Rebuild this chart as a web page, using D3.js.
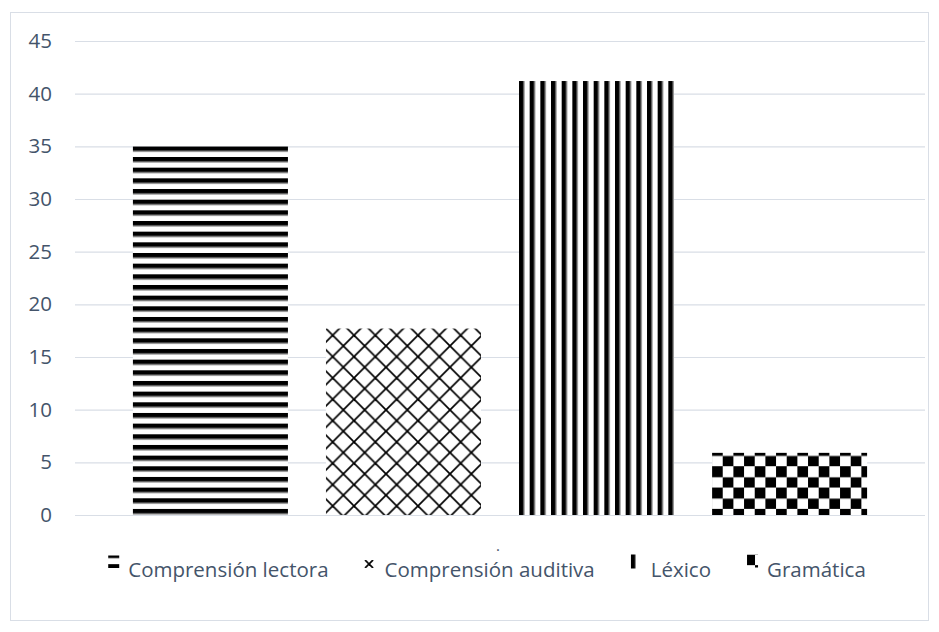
<!DOCTYPE html>
<html>
<head>
<meta charset="utf-8">
<script src="https://cdn.jsdelivr.net/npm/d3@7"></script>
<style>
  html, body { margin: 0; padding: 0; background: #fff; }
  svg { display: block; }
  .lbl { font-family: "Open Sans", sans-serif; font-size: 20.5px; fill: #44546A; }
  .cat { font-family: "Open Sans", sans-serif; font-size: 15px; fill: #44546A; }
</style>
</head>
<body>
<svg id="chart" width="939" height="632"></svg>
<script>
// Data
const categories = ["."];
const seriesNames = ["Comprensión lectora", "Comprensión auditiva", "Léxico", "Gramática"];
const seriesValues = [35, 17.7, 41.2, 5.9];
const yTicks = [0, 5, 10, 15, 20, 25, 30, 35, 40, 45];
const seriesPatterns = ["hstripe", "lattice", "vstripe", "checker"];

const plot = { left: 75, right: 925, top: 41, bottom: 515 };
const gridColor = "#d9dee6";

const svg = d3.select("#chart");
const defs = svg.append("defs");

// Fill patterns: each instance anchored at its own origin
function makePattern(id, kind, ox, oy, edges = true) {
  const T = 21.33, h = T / 2;
  const p = defs.append("pattern")
    .attr("id", id)
    .attr("patternUnits", "userSpaceOnUse")
    .attr("x", ox).attr("y", oy);
  if (kind === "hstripe") {
    p.attr("width", 10).attr("height", h);
    p.append("rect").attr("width", 10).attr("height", h).attr("fill", "#fff");
    p.append("rect").attr("width", 10).attr("height", 4.6).attr("fill", "#000");
    if (edges) p.append("rect").attr("y", 4.6).attr("width", 10).attr("height", 1).attr("fill", "#8a8a8a");
  } else if (kind === "vstripe") {
    p.attr("width", h).attr("height", 10);
    p.append("rect").attr("width", h).attr("height", 10).attr("fill", "#fff");
    p.append("rect").attr("width", 4.6).attr("height", 10).attr("fill", "#000");
    if (edges) p.append("rect").attr("x", 4.6).attr("width", 1).attr("height", 10).attr("fill", "#8a8a8a");
  } else if (kind === "lattice") {
    p.attr("width", T).attr("height", T);
    p.append("rect").attr("width", T).attr("height", T).attr("fill", "#fff");
    p.append("line").attr("x1", -2).attr("y1", -2).attr("x2", T + 2).attr("y2", T + 2)
      .attr("stroke", "#000").attr("stroke-width", 1.7);
    p.append("line").attr("x1", T + 2).attr("y1", -2).attr("x2", -2).attr("y2", T + 2)
      .attr("stroke", "#000").attr("stroke-width", 1.7);
  } else if (kind === "checker") {
    p.attr("width", T).attr("height", T);
    p.append("rect").attr("width", T).attr("height", T).attr("fill", "#fff");
    p.append("rect").attr("x", h).attr("y", 0).attr("width", h).attr("height", h).attr("fill", "#000");
    p.append("rect").attr("x", 0).attr("y", h).attr("width", h).attr("height", h).attr("fill", "#000");
    if (edges) p.append("rect").attr("width", T).attr("height", 0.8).attr("fill", "#8a8a8a");
  }
  return "url(#" + id + ")";
}

// Chart frame
svg.append("rect")
  .attr("x", 10.5).attr("y", 12.5)
  .attr("width", 918).attr("height", 608)
  .attr("fill", "#fff").attr("stroke", gridColor).attr("stroke-width", 1);

// Scales
const y = d3.scaleLinear().domain([0, 45]).range([plot.bottom, plot.top]);
const x0 = d3.scaleBand().domain(categories).range([plot.left, plot.right]);
const x1 = d3.scaleBand().domain(seriesNames).range([0, x0.bandwidth()])
  .paddingInner(0.197).paddingOuter(0.30);

// Value axis with gridlines
const yAxis = svg.append("g")
  .attr("transform", `translate(${plot.left},0)`)
  .call(d3.axisLeft(y).tickValues(yTicks).tickSize(-(plot.right - plot.left)).tickPadding(23));
yAxis.select(".domain").remove();
yAxis.attr("font-size", null).attr("font-family", null);
yAxis.selectAll(".tick line").attr("stroke", gridColor).attr("stroke-width", 1.2);
yAxis.selectAll(".tick text").attr("class", "lbl").attr("fill", null);

// Category axis
const xAxis = svg.append("g")
  .attr("transform", `translate(0,${plot.bottom})`)
  .call(d3.axisBottom(x0).tickSize(0).tickPadding(25));
xAxis.select(".domain").remove();
xAxis.attr("font-size", null).attr("font-family", null);
xAxis.selectAll(".tick text").attr("class", "cat").attr("fill", null).attr("dx", "-2");

// Bars
const rows = seriesNames.map((name, i) => ({ name, value: seriesValues[i], kind: seriesPatterns[i], i }));
const barOffset = { hstripe: [0, 0], vstripe: [0, 0], lattice: [6.7, 6.7], checker: [0, 2.7] };
svg.append("g").selectAll("rect")
  .data(rows)
  .join("rect")
  .attr("x", d => x0(categories[0]) + x1(d.name))
  .attr("y", d => y(d.value))
  .attr("width", x1.bandwidth())
  .attr("height", d => y(0) - y(d.value))
  .attr("fill", d => makePattern("bar-" + d.i, d.kind,
      x0(categories[0]) + x1(d.name) + barOffset[d.kind][0],
      y(d.value) + barOffset[d.kind][1]));

// Legend
const swatch = {
  hstripe: { w: 11, h: 12.5, dy: 1.5, ox: 0, oy: -2 },
  lattice: { w: 9, h: 8, dy: 6, ox: 4.5, oy: 4 },
  vstripe: { w: 10, h: 14, dy: 0.5, ox: 0, oy: 0 },
  checker: { w: 11, h: 13, dy: 0.5, ox: -2.67, oy: -10.67 }
};
const slot = 11, swGap = 9, itemGap = 36, legendCenter = 487, swTop = 554, textBase = 577;
const items = svg.append("g").selectAll("g").data(rows).join("g");
items.append("text").attr("class", "lbl").attr("y", textBase).text(d => d.name);
const widths = [];
items.select("text").each(function () { widths.push(this.getComputedTextLength()); });
const total = d3.sum(widths) + rows.length * (slot + swGap) + (rows.length - 1) * itemGap;
let cx = legendCenter - total / 2;
items.each(function (d, i) {
  const g = d3.select(this);
  const s = swatch[d.kind];
  const sx = cx, sy = swTop + s.dy;
  g.insert("rect", "text")
    .attr("x", sx).attr("y", sy).attr("width", s.w).attr("height", s.h)
    .attr("fill", makePattern("leg-" + i, d.kind, sx + s.ox, sy + s.oy, false));
  g.select("text").attr("x", sx + slot + swGap);
  cx += slot + swGap + widths[i] + itemGap;
});
</script>
</body>
</html>
